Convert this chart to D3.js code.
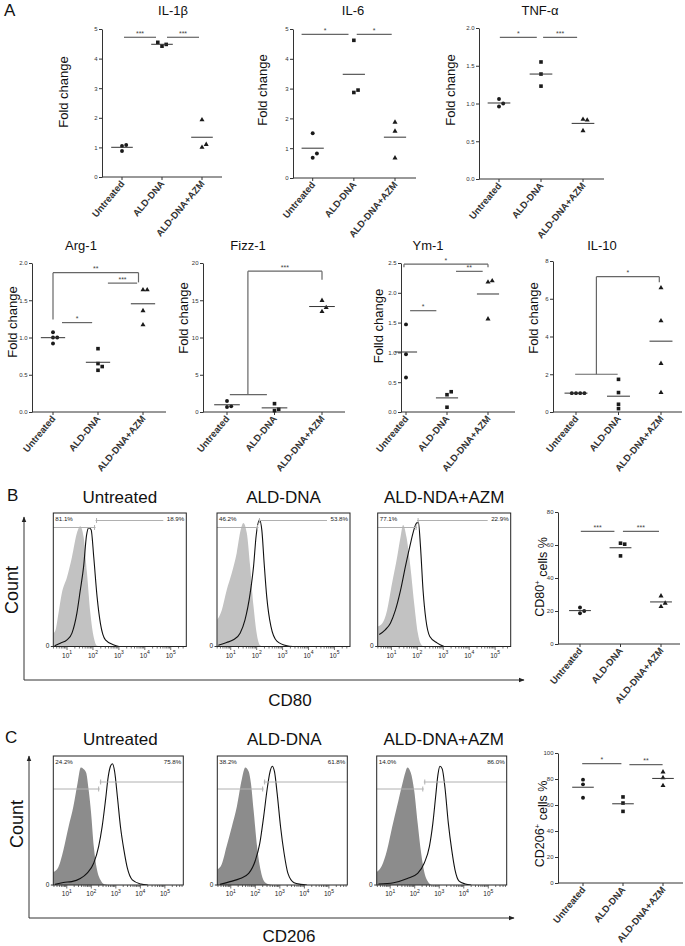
<!DOCTYPE html>
<html>
<head>
<meta charset="utf-8">
<script src="https://cdn.jsdelivr.net/npm/d3@7"></script>
<style>
body { margin: 0; background: #fff; }
svg { display: block; font-family: "Liberation Sans", Arial, sans-serif; }
</style>
</head>
<body>
<svg id="fig" width="685" height="946"></svg>
<script>
// ---------- data ----------
const groups = ["Untreated", "ALD-DNA", "ALD-DNA+AZM"];

// panel A, fold change per group (one value per animal)
const il1b = [[0.88, 1.05, 1.08], [4.42, 4.48, 4.55], [1.93, 1.00, 1.10]];
const il6 = [[1.50, 0.68, 0.82], [4.62, 2.87, 2.95], [1.87, 1.57, 0.67]];
const tnfa = [[1.06, 0.96, 1.00], [1.55, 1.39, 1.23], [0.64, 0.79, 0.78]];
const arg1 = [[1.07, 1.00, 1.00, 0.92], [0.85, 0.65, 0.61, 0.56], [1.64, 1.64, 1.36, 1.17]];
const fizz1 = [[1.48, 0.67, 0.76], [1.12, 0.18, 0.36], [14.97, 13.48, 14.02]];
const ym1 = [[1.47, 0.97, 0.58], [0.29, 0.08, 0.34], [2.18, 1.56, 2.20]];
const il10 = [[1.0, 1.0, 1.0, 1.0], [1.73, 1.03, 0.18, 0.41], [6.58, 4.83, 2.57, 1.03]];

// panel B/C, % positive cells
const cd80Pct = [[22.1, 18.6, 20.0], [53.4, 61.1, 60.5], [29.1, 22.7, 24.7]];
const cd206Pct = [[79.5, 75.9, 65.6], [66.2, 61.5, 55.1], [85.4, 81.0, 74.9]];

// significance bars: x in group index units, y in data units
const il1bSig = [{x1: 0.05, x2: 0.85, y: 4.72, text: "***"}, {x1: 1.125, x2: 1.925, y: 4.72, text: "***"}];
const il6Sig = [{x1: -0.27, x2: 0.87, y: 4.82, text: "*"}, {x1: 1.07, x2: 1.92, y: 4.82, text: "*"}];
const tnfaSig = [{x1: 0.02, x2: 0.9, y: 1.876, text: "*"}, {x1: 1.05, x2: 1.86, y: 1.876, text: "***"}];
const arg1Sig = [{x1: 0.2, x2: 0.87, y: 1.20, text: "*"}, {x1: 1.22, x2: 1.87, y: 1.73, text: "***"},
                 {x1: 0, x2: 1.9, y: 1.87, y1: 1.24, y2: 1.74, text: "**"}];
const fizz1Sig = [{x1: 0.44, x2: 2, y: 18.9, y1: 2.34, y2: 17.75, base: [0.06, 0.84, 2.34], text: "***"}];
const ym1Sig = [{x1: 0.1, x2: 0.74, y: 1.70, text: "*"}, {x1: 1.22, x2: 1.87, y: 2.36, text: "**"},
                {x1: -0.05, x2: 2, y: 2.48, y1: 2.43, y2: 2.43, text: "*"}];
const il10Sig = [{x1: 0.48, x2: 1.96, y: 7.17, y1: 2.0, y2: 6.87, base: [-0.02, 0.98, 2.0], text: "*"}];
const cd80Sig = [{x1: 0.02, x2: 0.85, y: 68.2, text: "***"}, {x1: 1.06, x2: 1.95, y: 68.2, text: "***"}];
const cd206Sig = [{x1: -0.02, x2: 0.96, y: 91.8, text: "*"}, {x1: 1.16, x2: 1.99, y: 91.0, text: "**"}];

// flow histograms: [log10 intensity, fraction of max height]
const cd80Titles = ["Untreated", "ALD-DNA", "ALD-NDA+AZM"];
const cd80Labels = [["81.1%", "18.9%"], ["46.2%", "53.8%"], ["77.1%", "22.9%"]];
const cd80Gate = [2.1, 2.07, 1.99];
const cd80Iso = [
  [[0.48, 0.10], [0.55, 0.12], [0.67, 0.25], [0.80, 0.40], [1.0, 0.52], [1.19, 0.67], [1.38, 0.85], [1.51, 0.90], [1.64, 0.82], [1.77, 0.55], [1.90, 0.25], [2.03, 0.07], [2.16, 0.005], [2.3, 0]],
  [[0.48, 0.20], [0.65, 0.27], [0.84, 0.42], [1.04, 0.55], [1.23, 0.70], [1.38, 0.87], [1.49, 0.925], [1.62, 0.85], [1.75, 0.60], [1.88, 0.30], [2.0, 0.10], [2.13, 0.01], [2.25, 0]],
  [[0.48, 0.15], [0.635, 0.17], [0.83, 0.27], [1.02, 0.47], [1.22, 0.67], [1.35, 0.82], [1.45, 0.91], [1.58, 0.82], [1.73, 0.60], [1.89, 0.30], [2.02, 0.10], [2.12, 0.025], [2.25, 0]]
];
const cd80Stain = [
  [[0.52, 0.005], [0.74, 0.025], [1.0, 0.05], [1.19, 0.10], [1.38, 0.25], [1.51, 0.42], [1.64, 0.60], [1.75, 0.83], [1.84, 0.89], [1.93, 0.875], [2.03, 0.67], [2.16, 0.37], [2.29, 0.17], [2.48, 0.05], [2.81, 0.012], [3.0, 0]],
  [[0.52, 0.01], [0.84, 0.03], [1.10, 0.05], [1.36, 0.10], [1.55, 0.20], [1.75, 0.40], [1.88, 0.60], [1.98, 0.83], [2.11, 0.95], [2.20, 0.87], [2.29, 0.62], [2.39, 0.37], [2.55, 0.15], [2.78, 0.04], [3.17, 0.005], [3.4, 0]],
  [[0.53, 0.09], [0.76, 0.125], [0.96, 0.175], [1.15, 0.27], [1.35, 0.42], [1.54, 0.60], [1.71, 0.75], [1.86, 0.87], [1.97, 0.925], [2.04, 0.93], [2.12, 0.75], [2.22, 0.42], [2.33, 0.20], [2.48, 0.075], [2.77, 0.025], [3.03, 0]]
];

const cd206Titles = ["Untreated", "ALD-DNA", "ALD-DNA+AZM"];
const cd206Labels = [["24.2%", "75.8%"], ["38.2%", "61.8%"], ["14.0%", "86.0%"]];
const cd206Gate = [2.34, 2.34, 2.37];
const cd206Iso = [
  [[0.45, 0.10], [0.66, 0.14], [0.86, 0.27], [1.07, 0.45], [1.27, 0.61], [1.44, 0.79], [1.57, 0.91], [1.68, 0.90], [1.79, 0.87], [1.89, 0.74], [1.99, 0.56], [2.10, 0.30], [2.23, 0.12], [2.37, 0.04], [2.53, 0.005], [2.7, 0]],
  [[0.45, 0.12], [0.63, 0.16], [0.83, 0.30], [1.04, 0.45], [1.25, 0.61], [1.45, 0.82], [1.59, 0.91], [1.73, 0.88], [1.82, 0.79], [1.93, 0.58], [2.07, 0.30], [2.21, 0.12], [2.37, 0.026], [2.55, 0.005], [2.7, 0]],
  [[0.45, 0.10], [0.66, 0.15], [0.87, 0.27], [1.08, 0.45], [1.28, 0.61], [1.49, 0.78], [1.63, 0.88], [1.70, 0.91], [1.84, 0.87], [1.98, 0.73], [2.12, 0.48], [2.26, 0.25], [2.39, 0.10], [2.56, 0.02], [2.7, 0]]
];
const cd206Stain = [
  [[0.52, 0.005], [0.86, 0.02], [1.20, 0.026], [1.55, 0.05], [1.82, 0.09], [2.10, 0.17], [2.30, 0.30], [2.44, 0.45], [2.58, 0.66], [2.69, 0.84], [2.78, 0.92], [2.86, 0.94], [2.95, 0.88], [3.06, 0.69], [3.19, 0.45], [3.33, 0.27], [3.47, 0.13], [3.67, 0.04], [4.02, 0.008], [4.3, 0]],
  [[0.56, 0.005], [0.97, 0.026], [1.38, 0.05], [1.73, 0.09], [2.0, 0.19], [2.18, 0.32], [2.34, 0.53], [2.48, 0.74], [2.59, 0.87], [2.69, 0.92], [2.78, 0.88], [2.89, 0.71], [3.03, 0.45], [3.17, 0.25], [3.33, 0.09], [3.58, 0.018], [3.85, 0.005], [4.1, 0]],
  [[0.52, 0.008], [1.14, 0.018], [1.70, 0.05], [2.12, 0.09], [2.39, 0.17], [2.60, 0.30], [2.74, 0.48], [2.85, 0.68], [2.95, 0.86], [3.03, 0.92], [3.12, 0.90], [3.23, 0.76], [3.37, 0.48], [3.51, 0.27], [3.64, 0.12], [3.81, 0.03], [4.06, 0.008], [4.3, 0]]
];

const decades = [1, 2, 3, 4, 5];

// ---------- drawing ----------
const svg = d3.select("#fig");
const FONT = "'Liberation Sans', Arial, sans-serif";

const defs = svg.append("defs");
defs.append("marker")
    .attr("id", "arrow")
    .attr("viewBox", "0 0 10 10")
    .attr("refX", 9).attr("refY", 5)
    .attr("markerWidth", 6).attr("markerHeight", 6)
    .attr("orient", "auto")
  .append("path")
    .attr("d", "M0,1L10,5L0,9Z")
    .attr("fill", "#222");

const shapes = [d3.symbolCircle, d3.symbolSquare, d3.symbolTriangle];
const shapeSize = [12, 13, 11];

function text(x, y, str, size, opts) {
  opts = opts || {};
  return svg.append("text")
      .attr("x", x).attr("y", y)
      .attr("font-size", size)
      .attr("text-anchor", opts.anchor || "middle")
      .attr("font-weight", opts.weight || "normal")
      .attr("fill", opts.fill || "#111")
      .text(str);
}

function vtext(x, y, str, size) {
  return svg.append("text")
      .attr("transform", `translate(${x},${y}) rotate(-90)`)
      .attr("dy", "0.35em")
      .attr("font-size", size)
      .attr("text-anchor", "middle")
      .attr("fill", "#111")
      .text(str);
}

// place points of one group side by side when they would overlap
function swarm(vals, y, cx, s) {
  const placed = [];
  vals.forEach(v => {
    const py = y(v);
    const cand = [0, s, -s, 2 * s, -2 * s, 3 * s];
    for (const c of cand) {
      const hit = placed.some(p => Math.hypot(p.x - (cx + c), p.y - py) < s - 0.01);
      if (!hit) { placed.push({x: cx + c, y: py, v: v}); break; }
    }
  });
  return placed;
}

function drawScatter(cfg) {
  const b = cfg.box;
  const y = d3.scaleLinear().domain(cfg.domain).range([b.bottom, b.top]);
  const x = d3.scaleLinear().domain([0, 2]).range([b.c0, b.c2]);
  const step = (b.c2 - b.c0) / 2;
  const g = svg.append("g");

  // y axis
  const ya = g.append("g")
      .attr("transform", `translate(${b.left},0)`)
      .call(d3.axisLeft(y)
        .tickValues(d3.range(cfg.domain[0], cfg.domain[1] + cfg.step / 2, cfg.step))
        .tickFormat(d3.format(cfg.fmt))
        .tickSize(3).tickSizeOuter(0).tickPadding(1.5));
  ya.attr("font-family", FONT).attr("font-size", 6);
  ya.selectAll("path, line").attr("stroke", "#333");
  ya.selectAll("text").attr("fill", "#333");

  // x axis
  g.append("line")
      .attr("x1", b.left).attr("x2", b.right)
      .attr("y1", b.bottom).attr("y2", b.bottom)
      .attr("stroke", "#333");
  groups.forEach((name, i) => {
    g.append("line")
        .attr("x1", x(i)).attr("x2", x(i))
        .attr("y1", b.bottom).attr("y2", b.bottom + 3)
        .attr("stroke", "#333");
    g.append("text")
        .attr("transform", `translate(${x(i) + 3},${b.bottom + 7}) rotate(-50)`)
        .attr("text-anchor", "end")
        .attr("font-size", 9.5)
        .attr("font-weight", "bold")
        .attr("fill", "#333")
        .text(name);
  });

  // points and means
  cfg.values.forEach((vals, i) => {
    const pts = swarm(vals, y, x(i), 4.2);
    g.selectAll(null).data(pts).join("path")
        .attr("d", d3.symbol().type(shapes[i]).size(shapeSize[i]))
        .attr("transform", d => `translate(${d.x},${d.y})`)
        .attr("fill", "#1a1a1a");
    const m = d3.mean(vals);
    g.append("line")
        .attr("x1", x(i) - step * 0.27).attr("x2", x(i) + step * 0.27)
        .attr("y1", y(m)).attr("y2", y(m))
        .attr("stroke", "#333").attr("stroke-width", 1);
  });

  // significance
  cfg.sig.forEach(s => {
    const col = "#666";
    g.append("line")
        .attr("x1", x(s.x1)).attr("x2", x(s.x2))
        .attr("y1", y(s.y)).attr("y2", y(s.y))
        .attr("stroke", col).attr("stroke-width", 1.2);
    if (s.y1 !== undefined) {
      g.append("line").attr("x1", x(s.x1)).attr("x2", x(s.x1))
          .attr("y1", y(s.y)).attr("y2", y(s.y1))
          .attr("stroke", col).attr("stroke-width", 1.2);
      g.append("line").attr("x1", x(s.x2)).attr("x2", x(s.x2))
          .attr("y1", y(s.y)).attr("y2", y(s.y2))
          .attr("stroke", col).attr("stroke-width", 1.2);
    }
    if (s.base) {
      g.append("line").attr("x1", x(s.base[0])).attr("x2", x(s.base[1]))
          .attr("y1", y(s.base[2])).attr("y2", y(s.base[2]))
          .attr("stroke", col).attr("stroke-width", 1.2);
    }
    g.append("text")
        .attr("x", (x(s.x1) + x(s.x2)) / 2)
        .attr("y", y(s.y) - 1.5)
        .attr("text-anchor", "middle")
        .attr("font-size", 7)
        .attr("fill", "#444")
        .text(s.text);
  });

  if (cfg.title) text(cfg.titleX, cfg.titleY, cfg.title, 13);
  const yl = svg.append("text")
      .attr("transform", `translate(${cfg.ylabelX},${cfg.ylabelY}) rotate(-90)`)
      .attr("dy", "0.35em")
      .attr("font-size", cfg.ylabelSize || 13)
      .attr("text-anchor", "middle")
      .attr("fill", "#111");
  if (cfg.ylabelSup) {
    yl.append("tspan").text(cfg.ylabel[0]);
    yl.append("tspan").attr("font-size", 8).attr("dy", "-0.6em").text(cfg.ylabelSup);
    yl.append("tspan").attr("dy", "0.6em").text(cfg.ylabel[1]);
  } else {
    yl.text(cfg.ylabel);
  }
}

function drawHist(cfg) {
  const {left, top, w, h} = cfg;
  const x = d3.scaleLinear().domain(cfg.domain).range([left, left + w]);
  const y = d3.scaleLinear().domain([0, 1]).range([top + h, top]);
  const id = "clip" + Math.round(left) + "_" + Math.round(top);
  defs.append("clipPath").attr("id", id)
    .append("rect").attr("x", left).attr("y", top).attr("width", w).attr("height", h);
  const g = svg.append("g");
  const body = g.append("g").attr("clip-path", `url(#${id})`);

  body.append("path")
      .datum(cfg.iso)
      .attr("d", d3.area().x(d => x(d[0])).y0(top + h).y1(d => y(d[1])).curve(d3.curveMonotoneX))
      .attr("fill", cfg.fill);
  body.append("path")
      .datum(cfg.stain)
      .attr("d", d3.line().x(d => x(d[0])).y(d => y(d[1])).curve(d3.curveMonotoneX))
      .attr("fill", "none").attr("stroke", "#111").attr("stroke-width", 1.1);

  // gates
  const gx = x(cfg.gate);
  const gc = "#b0b0b0";
  const ly = top + cfg.gateY[0], ry = top + cfg.gateY[1];
  g.append("line").attr("x1", left).attr("x2", gx).attr("y1", ly).attr("y2", ly).attr("stroke", gc);
  g.append("line").attr("x1", gx).attr("x2", left + w - cfg.rightGap).attr("y1", ry).attr("y2", ry).attr("stroke", gc);
  g.append("line").attr("x1", gx - 1).attr("x2", gx - 1).attr("y1", ly - 2.5).attr("y2", ly + 2.5).attr("stroke", gc);
  g.append("line").attr("x1", gx + 1).attr("x2", gx + 1).attr("y1", ry - 2.5).attr("y2", ry + 2.5).attr("stroke", gc);

  text(left + 2, top + 7.5, cfg.labels[0], 6.2, {anchor: "start", fill: "#222"});
  text(left + w - 2, top + 7.5, cfg.labels[1], 6.2, {anchor: "end", fill: "#222"});

  g.append("rect")
      .attr("x", left).attr("y", top).attr("width", w).attr("height", h)
      .attr("fill", "none").attr("stroke", "#222").attr("stroke-width", 1);

  // log ticks
  const bottom = top + h;
  for (let d = 0; d <= 5; d++) {
    for (let k = 1; k <= 9; k++) {
      const lv = d + Math.log10(k);
      if (lv < cfg.domain[0] || lv > cfg.domain[1]) continue;
      g.append("line").attr("x1", x(lv)).attr("x2", x(lv))
          .attr("y1", bottom).attr("y2", bottom + (k === 1 ? 3.5 : 2))
          .attr("stroke", "#333").attr("stroke-width", 0.7);
    }
  }
  decades.forEach(d => {
    const t = svg.append("text")
        .attr("x", x(d)).attr("y", bottom + 11)
        .attr("font-size", 6.5).attr("text-anchor", "middle").attr("fill", "#222");
    t.append("tspan").text("10");
    t.append("tspan").attr("font-size", 5).attr("dy", "-0.7em").text(d);
  });
  g.append("line").attr("x1", left - 2.5).attr("x2", left).attr("y1", bottom).attr("y2", bottom).attr("stroke", "#333");
  text(left - 4, bottom + 1.5, "0", 6.5, {anchor: "end", fill: "#222"});

  text(cfg.titleX, cfg.titleY, cfg.title, 17);
}

// ---- panel A ----
text(4, 16, "A", 17, {anchor: "start"});
drawScatter({values: il1b, sig: il1bSig, domain: [0, 5], step: 1, fmt: "d",
  box: {left: 102, top: 29, bottom: 177, right: 222, c0: 122, c2: 202},
  title: "IL-1β", titleX: 173, titleY: 15, ylabel: "Fold change", ylabelX: 63, ylabelY: 92});
drawScatter({values: il6, sig: il6Sig, domain: [0, 5], step: 1, fmt: "d",
  box: {left: 293, top: 29, bottom: 178, right: 416, c0: 312.7, c2: 395},
  title: "IL-6", titleX: 353, titleY: 15, ylabel: "Fold change", ylabelX: 262, ylabelY: 90});
drawScatter({values: tnfa, sig: tnfaSig, domain: [0, 2], step: 0.5, fmt: ".1f",
  box: {left: 479, top: 28, bottom: 179, right: 604, c0: 499, c2: 583},
  title: "TNF-α", titleX: 540, titleY: 15, ylabel: "Fold change", ylabelX: 450, ylabelY: 90});

drawScatter({values: arg1, sig: arg1Sig, domain: [0, 2], step: 0.5, fmt: ".1f",
  box: {left: 32, top: 263, bottom: 412, right: 166, c0: 53, c2: 143},
  title: "Arg-1", titleX: 81, titleY: 250, ylabel: "Fold change", ylabelX: 12, ylabelY: 322});
drawScatter({values: fizz1, sig: fizz1Sig, domain: [0, 20], step: 5, fmt: "d",
  box: {left: 203, top: 263, bottom: 412, right: 345, c0: 227, c2: 322},
  title: "Fizz-1", titleX: 248, titleY: 250, ylabel: "Fold change", ylabelX: 183, ylabelY: 318});
drawScatter({values: ym1, sig: ym1Sig, domain: [0, 2.5], step: 0.5, fmt: ".1f",
  box: {left: 401, top: 263, bottom: 412, right: 515, c0: 406, c2: 488},
  title: "Ym-1", titleX: 428, titleY: 250, ylabel: "Folld change", ylabelX: 378, ylabelY: 326});
drawScatter({values: il10, sig: il10Sig, domain: [0, 8], step: 2, fmt: "d",
  box: {left: 553, top: 261, bottom: 412, right: 682, c0: 576, c2: 661},
  title: "IL-10", titleX: 602, titleY: 250, ylabel: "Fold change", ylabelX: 533, ylabelY: 318});

// ---- panel B ----
text(7, 501, "B", 17, {anchor: "start"});
[53.3, 217, 377.7].forEach((left, i) => {
  drawHist({left: left, top: 513, w: 133, h: 133.5, domain: [0.47, 5.6],
    iso: cd80Iso[i], stain: cd80Stain[i], fill: "#c2c2c2",
    gate: cd80Gate[i], gateY: [14.5, 7.5], rightGap: 23, labels: cd80Labels[i],
    title: cd80Titles[i], titleX: left + 66.5, titleY: 503});
});
svg.append("line").attr("x1", 24).attr("x2", 24).attr("y1", 680).attr("y2", 517)
    .attr("stroke", "#333").attr("marker-end", "url(#arrow)");
svg.append("line").attr("x1", 24).attr("x2", 524).attr("y1", 680).attr("y2", 680)
    .attr("stroke", "#333").attr("marker-end", "url(#arrow)");
vtext(12, 590, "Count", 18);
text(290, 706, "CD80", 17);
drawScatter({values: cd80Pct, sig: cd80Sig, domain: [0, 80], step: 20, fmt: "d",
  box: {left: 558, top: 512, bottom: 644, right: 680, c0: 580, c2: 661},
  ylabel: ["CD80", " cells %"], ylabelSup: "+", ylabelSize: 12.5, ylabelX: 540, ylabelY: 577});

// ---- panel C ----
text(5, 743, "C", 17, {anchor: "start"});
[53.3, 217.3, 376.7].forEach((left, i) => {
  drawHist({left: left, top: 756, w: 130, h: 129, domain: [0.45, 5.75],
    iso: cd206Iso[i], stain: cd206Stain[i], fill: "#8c8c8c",
    gate: cd206Gate[i], gateY: [33, 26], rightGap: 0, labels: cd206Labels[i],
    title: cd206Titles[i], titleX: left + 67, titleY: 745});
});
svg.append("line").attr("x1", 29).attr("x2", 29).attr("y1", 918).attr("y2", 756)
    .attr("stroke", "#333").attr("marker-end", "url(#arrow)");
svg.append("line").attr("x1", 29).attr("x2", 514).attr("y1", 918).attr("y2", 918)
    .attr("stroke", "#333").attr("marker-end", "url(#arrow)");
vtext(17, 824, "Count", 18);
text(289, 942, "CD206", 17);
drawScatter({values: cd206Pct, sig: cd206Sig, domain: [0, 100], step: 20, fmt: "d",
  box: {left: 558, top: 753, bottom: 883, right: 683, c0: 583, c2: 663},
  ylabel: ["CD206", " cells %"], ylabelSup: "+", ylabelSize: 12.5, ylabelX: 540, ylabelY: 824});
</script>
</body>
</html>
